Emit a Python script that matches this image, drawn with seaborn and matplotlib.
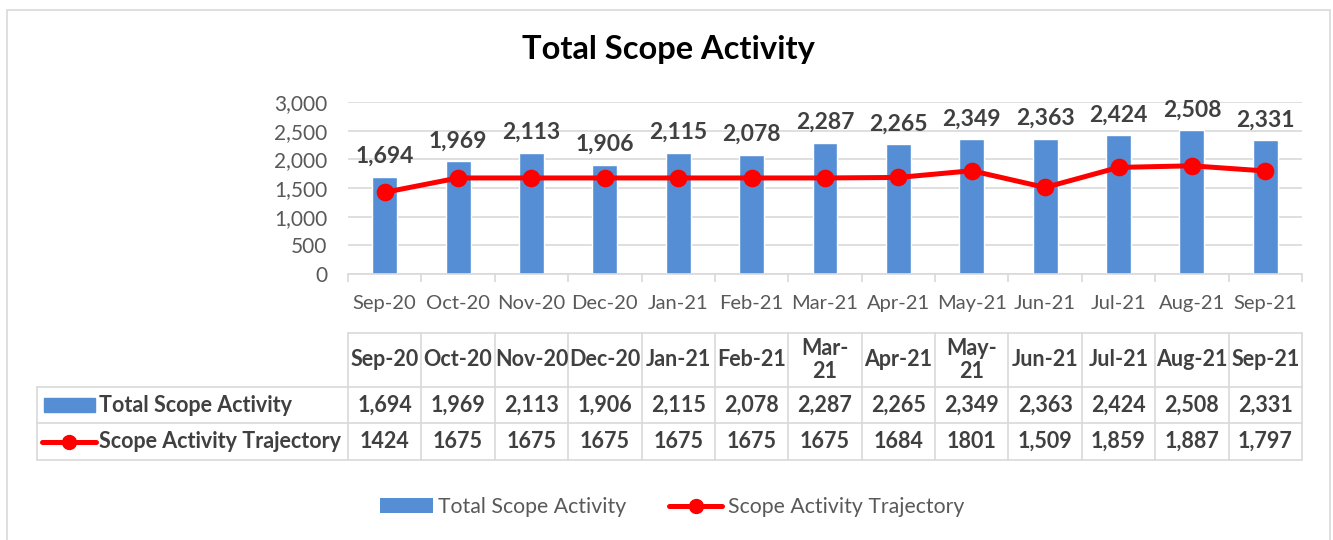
import numpy as np
import matplotlib
matplotlib.use('Agg')
import matplotlib.pyplot as plt
from matplotlib.patches import Patch, Rectangle
from matplotlib.lines import Line2D
from matplotlib.ticker import FuncFormatter, MultipleLocator
import seaborn as sns

# - data - #
months = ['Sep-20', 'Oct-20', 'Nov-20', 'Dec-20', 'Jan-21', 'Feb-21', 'Mar-21',
          'Apr-21', 'May-21', 'Jun-21', 'Jul-21', 'Aug-21', 'Sep-21']
table_headers = ['Sep-20', 'Oct-20', 'Nov-20', 'Dec-20', 'Jan-21', 'Feb-21', 'Mar-\n21',
                 'Apr-21', 'May-\n21', 'Jun-21', 'Jul-21', 'Aug-21', 'Sep-21']
total_activity = [1694, 1969, 2113, 1906, 2115, 2078, 2287, 2265, 2349, 2363, 2424, 2508, 2331]
trajectory = [1424, 1675, 1675, 1675, 1675, 1675, 1675, 1684, 1801, 1509, 1859, 1887, 1797]
# the table shows the trajectory with mixed number formats
trajectory_text = ['1424', '1675', '1675', '1675', '1675', '1675', '1675', '1684', '1801',
                   '1,509', '1,859', '1,887', '1,797']
series_names = ['Total Scope Activity', 'Scope Activity Trajectory']

bar_col = '#558ED5'
line_col = '#FF0000'
grid_col = '#D9D9D9'
txt_col = '#404040'
tick_col = '#595959'

sns.set_theme(style='white')
plt.rcParams['font.family'] = ['Lato', 'DejaVu Sans']

W, H = 1333, 540
fig = plt.figure(figsize=(W / 100, H / 100), dpi=100)

# outer chart frame
fig.patches.append(Rectangle((7 / W, -0.05), (1330 - 7) / W, 1.05 - 10 / H, transform=fig.transFigure,
                             fill=False, edgecolor=grid_col, lw=1.2))

# main plot area (pixel positions from the reference)
ax_l, ax_r = 348 / W, 1302 / W
ax = fig.add_axes([ax_l, 1 - 274 / H, ax_r - ax_l, (274 - 102) / H])

sns.barplot(x=months, y=total_activity, color=bar_col, width=0.34, saturation=1, ax=ax, zorder=2)
sns.pointplot(x=months, y=trajectory, color=line_col, errorbar=None, markers='o',
              markersize=10, linewidth=3.6, ax=ax, zorder=3)

for i, v in enumerate(total_activity):
    ax.annotate(f'{v:,}', (i, v), xytext=(0, 7), textcoords='offset points',
                ha='center', va='bottom', fontsize=16.5, fontweight='bold', color=txt_col)

ax.set_xlim(-0.5, len(months) - 0.5)
ax.set_ylim(0, 3000)
ax.yaxis.set_major_locator(MultipleLocator(500))
ax.yaxis.set_major_formatter(FuncFormatter(lambda v, p: f'{int(v):,}'))
ax.grid(axis='y', color=grid_col, lw=1.2, zorder=0)
ax.set_axisbelow(True)
for s in ['top', 'right', 'left']:
    ax.spines[s].set_visible(False)
ax.spines['bottom'].set_color(grid_col)
ax.spines['bottom'].set_linewidth(1.2)
ax.set_xticks(np.arange(-0.5, len(months)), minor=True)
ax.tick_params(axis='x', which='minor', length=6, color=grid_col, width=1.2, bottom=True)
ax.tick_params(axis='x', which='major', length=0, pad=15, labelsize=14.5, labelcolor=tick_col)
ax.tick_params(axis='y', length=0, pad=15, labelsize=15, labelcolor=tick_col)
ax.set_xlabel('')
ax.set_ylabel('')

fig.text(668 / W, 1 - 50 / H, 'Total Scope Activity', ha='center', va='center',
         fontsize=23.5, fontweight='bold', color='black')

# data table below the plot
tax = fig.add_axes([ax_l, 1 - 460 / H, ax_r - ax_l, (460 - 333) / H])
tax.set_xlim(-0.5, len(months) - 0.5)
tax.set_ylim(127, 0)
tax.axis('off')
cat_w = (1302 - 348) / len(months)
xl = -0.5 - (348 - 37) / cat_w
rows = [0, 54, 90, 127]
n = len(months)
lk = dict(color=grid_col, lw=1.2, clip_on=False)
tax.plot([-0.5, n - 0.5], [rows[0]] * 2, **lk)
for r in rows[1:]:
    tax.plot([xl, n - 0.5], [r] * 2, **lk)
for i in range(n + 1):
    tax.plot([i - 0.5] * 2, [rows[0], rows[-1]], **lk)
tax.plot([xl] * 2, [rows[1], rows[-1]], **lk)

tk = dict(ha='center', va='center', fontsize=15.5, fontweight='bold', color=txt_col,
          clip_on=False, linespacing=1.15)
for i in range(n):
    tax.text(i, (rows[0] + rows[1]) / 2, table_headers[i], **tk)
    tax.text(i, (rows[1] + rows[2]) / 2, f'{total_activity[i]:,}', **tk)
    tax.text(i, (rows[2] + rows[3]) / 2, trajectory_text[i], **tk)

# row labels with legend keys
px = lambda p: -0.5 - (348 - p) / cat_w
y1 = (rows[1] + rows[2]) / 2
y2 = (rows[2] + rows[3]) / 2
tax.add_patch(Rectangle((px(44), y1 - 7), px(95) - px(44), 14, color=bar_col, clip_on=False))
tax.plot([px(42), px(96)], [y2, y2], color=line_col, lw=3.6, clip_on=False)
tax.plot([px(69)], [y2], 'o', color=line_col, markersize=10, clip_on=False)
tax.text(px(99), y1, series_names[0], ha='left', va='center', fontsize=15.5,
         fontweight='bold', color=txt_col, clip_on=False)
tax.text(px(99), y2, series_names[1], ha='left', va='center', fontsize=15.5,
         fontweight='bold', color=txt_col, clip_on=False)

# legend at the bottom
handles = [Patch(facecolor=bar_col, edgecolor='none'),
           Line2D([], [], color=line_col, lw=3.6, marker='o', markersize=10)]
fig.legend(handles, series_names, loc='center', bbox_to_anchor=(672 / W, 1 - 507 / H),
           ncol=2, frameon=False, fontsize=15.3, labelcolor=tick_col, handlelength=2.5,
           handletextpad=0.25, columnspacing=2.0)

fig.savefig('out.png', dpi=100)
